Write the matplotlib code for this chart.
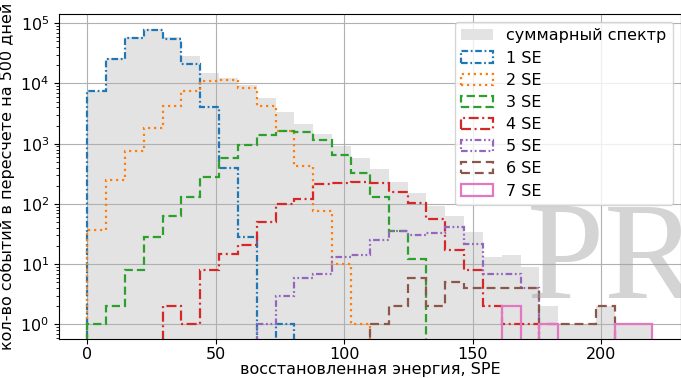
import numpy as np
import matplotlib
matplotlib.use("Agg")
import matplotlib.pyplot as plt

# 30 bins over 0..220 SPE
edges = np.linspace(0, 220, 31)
centers = 0.5 * (edges[:-1] + edges[1:])

# events per bin (scaled to 500 days), split by number of single electrons
se1 = [7500, 25900, 57800, 77500, 55000, 20800, 4000, 400, 28, 0, 1, 0, 0, 0, 0,
       0, 0, 0, 0, 0, 0, 0, 0, 0, 0, 0, 0, 0, 0, 0]
se2 = [37, 251, 760, 1810, 4300, 7540, 10800, 11500, 8400, 4300, 1650, 420, 75, 10, 1,
       0, 0, 0, 0, 0, 0, 0, 0, 0, 0, 0, 0, 0, 0, 0]
se3 = [1, 2, 8, 28, 63, 132, 284, 570, 950, 1415, 1650, 1550, 1170, 660, 330,
       130, 35, 12, 0, 0, 0, 0, 0, 0, 0, 0, 0, 0, 0, 0]
se4 = [0, 0, 0, 0, 2, 1, 8, 15, 21, 51, 100, 119, 216, 224, 233,
       224, 160, 105, 57, 17, 8, 2, 1, 1, 0, 0, 0, 0, 0, 0]
se5 = [0, 0, 0, 0, 0, 0, 0, 0, 0, 1, 3, 6, 7, 13, 14,
       25, 35, 30, 33, 42, 22, 7, 7, 4, 0, 0, 0, 0, 0, 0]
se6 = [0, 0, 0, 0, 0, 0, 0, 0, 0, 0, 0, 0, 0, 0, 0,
       1, 2, 6, 2, 5, 4, 4, 4, 4, 1, 1, 1, 2, 0, 0]
se7 = [0, 0, 0, 0, 0, 0, 0, 0, 0, 0, 0, 0, 0, 0, 0,
       0, 0, 0, 0, 0, 0, 0, 2, 0, 1, 0, 0, 0, 1, 1]

series = [se1, se2, se3, se4, se5, se6, se7]
labels = ["1 SE", "2 SE", "3 SE", "4 SE", "5 SE", "6 SE", "7 SE"]
colors = ["#1f77b4", "#ff7f0e", "#2ca02c", "#d62728", "#9467bd", "#8c564b", "#e377c2"]
styles = [(0, (3, 1.2, 0.8, 1.2)), (0, (1, 1.7)), (0, (3.7, 1.8)),
          (0, (4.5, 1.6, 0.9, 1.6)), (0, (3, 1.2, 0.8, 1.2, 0.8, 1.2)),
          (0, (4, 2.2)), "-"]

total = np.sum(np.array(series, dtype=float), axis=0)

FS = 11.5
plt.rcParams["font.family"] = ["DejaVu Sans"]

fig = plt.figure(figsize=(6.81, 3.78), dpi=100)
ax = fig.add_axes([0.0866, 0.103, 0.913, 0.86])

ax.hist(centers, bins=edges, weights=total, histtype="stepfilled",
        color="#e3e3e3", log=True, label="суммарный спектр", zorder=0.8)
for vals, lab, col, ls in zip(series, labels, colors, styles):
    ax.hist(centers, bins=edges, weights=vals, histtype="step", log=True,
            color=col, linestyle=ls, linewidth=1.6, label=lab, zorder=2)

ax.set_xlim(-11, 231)
ax.set_ylim(10 ** -0.243, 10 ** 5.154)
ax.set_xticks([0, 50, 100, 150, 200])
ax.grid(True, which="major", color="#b0b0b0", linewidth=0.8)
ax.tick_params(labelsize=FS)
ax.tick_params(axis="x", pad=2)

ax.set_xlabel("восстановленная энергия, SPE", fontsize=FS, labelpad=0)
ax.set_ylabel("кол-во событий в пересчете на 500 дней", fontsize=FS)

ax.legend(loc="upper right", fontsize=FS, framealpha=0.8, labelspacing=0.45,
          borderaxespad=0.5)

# preprint watermark across the lower right corner
fig.text(0.774, 0.212, "PREPRINT", family="Liberation Serif", fontsize=100,
         color="#a0a0a0", alpha=0.45, ha="left", va="baseline", zorder=10)

fig.savefig("out.png", dpi=100)
